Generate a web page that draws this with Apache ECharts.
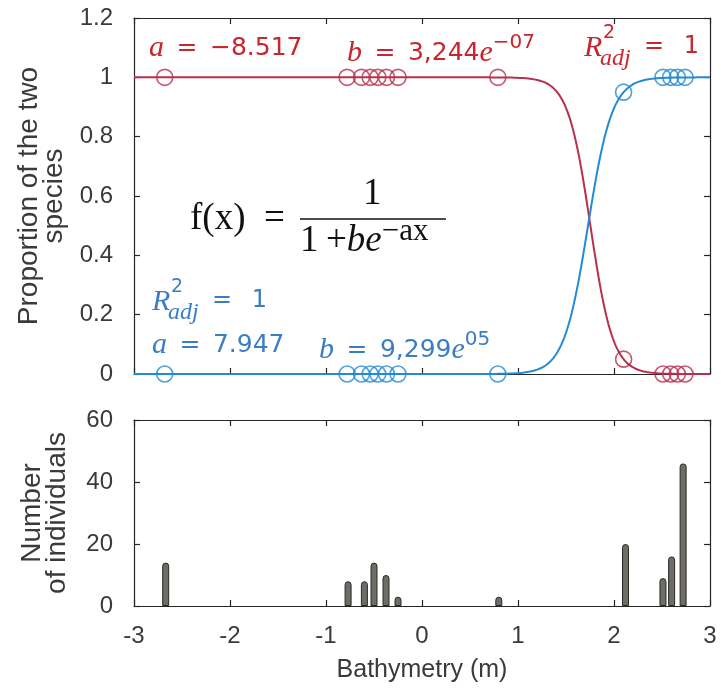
<!DOCTYPE html>
<html>
<head>
<meta charset="utf-8">
<script src="https://cdn.jsdelivr.net/npm/echarts@6/dist/echarts.min.js"></script>
<style>
  html, body { margin: 0; padding: 0; background: #ffffff; }
  #main { width: 721px; height: 695px; }
</style>
</head>
<body>
<div id="main"></div>
<script>
// Sampled stations: bathymetry (m) and observed proportion of each species
const stationDepths = [-2.68, -0.78, -0.63, -0.54, -0.46, -0.37, -0.25, 0.79, 2.1, 2.51, 2.59, 2.66, 2.74];
const proportionRed = [1, 1, 1, 1, 1, 1, 1, 1, 0.05, 0, 0, 0, 0];
const proportionBlue = [0, 0, 0, 0, 0, 0, 0, 0, 0.95, 1, 1, 1, 1];

// Number of individuals counted at each depth
const countDepths = [-2.67, -0.77, -0.6, -0.5, -0.375, -0.25, 0.8, 2.12, 2.51, 2.6, 2.72];
const countValues = [14, 8, 8, 14, 10, 3, 3, 20, 9, 16, 46];

// Fitted logistic models f(x) = 1 / (1 + b e^(-a x))
const redFit = { a: -8.517, b: 3.244e-7 };
const blueFit = { a: 7.947, b: 9.299e5 };

const RED = '#b8304f';
const BLUE = '#238bd3';
const RED_TEXT = '#c9252c';
const BLUE_TEXT = '#3b7dc4';
const AXIS = '#262626';

function logisticCurve(fit) {
  const pts = [];
  for (let i = 0; i <= 600; i++) {
    const x = -3 + i * 0.01;
    pts.push([x, 1 / (1 + fit.b * Math.exp(-fit.a * x))]);
  }
  return pts;
}

const zip = (xs, ys) => xs.map((x, i) => [x, ys[i]]);

const chart = echarts.init(document.getElementById('main'), null, { renderer: 'canvas' });

const tickFont = { fontFamily: 'Liberation Sans', fontSize: 24, color: '#3a3a3a' };
const yNameFont = { fontFamily: 'Liberation Sans', fontSize: 28, color: '#3a3a3a', lineHeight: 25 };
const xNameFont = { fontFamily: 'Liberation Sans', fontSize: 25, color: '#3a3a3a' };

function xAxis(gridIndex, position, labels, extra) {
  return Object.assign({
    type: 'value', gridIndex, position, min: -3, max: 3, interval: 1,
    axisLine: { show: true, onZero: false, lineStyle: { color: AXIS, width: 1.2 } },
    axisTick: { show: true, inside: true, length: 6, lineStyle: { color: AXIS, width: 1.2 } },
    axisLabel: Object.assign({ show: labels, margin: 18 }, tickFont),
    splitLine: { show: false }
  }, extra || {});
}
function yAxis(gridIndex, position, labels, min, max, interval, extra) {
  return Object.assign({
    type: 'value', gridIndex, position, min, max, interval,
    axisLine: { show: true, onZero: false, lineStyle: { color: AXIS, width: 1.2 } },
    axisTick: { show: true, inside: true, length: 6, lineStyle: { color: AXIS, width: 1.2 } },
    axisLabel: Object.assign({ show: labels, margin: 21 }, tickFont),
    splitLine: { show: false }
  }, extra || {});
}

// Math-style annotation helpers
const EQ = '\u2002=\u2002';
const NUM_FONT = 'DejaVu Sans';
function richText(x, y, text, color) {
  return {
    type: 'text', left: x, top: y, z: 100,
    style: {
      text, fill: color,
      rich: {
        i: { fontFamily: 'Liberation Serif', fontStyle: 'italic', fontSize: 30, lineHeight: 40, verticalAlign: 'middle', fill: color },
        n: { fontFamily: NUM_FONT, fontSize: 25, lineHeight: 40, verticalAlign: 'middle', fill: color },
        s: { fontFamily: NUM_FONT, fontSize: 20, lineHeight: 18, verticalAlign: 'top', fill: color }
      }
    }
  };
}
function rAdj(x, y, color) {
  return [
    { type: 'text', left: x, top: y, z: 100,
      style: { text: 'R', fill: color, font: 'italic 30px "Liberation Serif"' } },
    { type: 'text', left: x + 19, top: y - 9, z: 100,
      style: { text: '2', fill: color, font: '19px "DejaVu Sans"' } },
    { type: 'text', left: x + 16, top: y + 14, z: 100,
      style: { text: 'adj', fill: color, font: 'italic 24px "Liberation Serif"' } },
    { type: 'text', left: x + 60, top: y + 2, z: 100,
      style: { text: '=\u2002 1', fill: color, font: '24px "DejaVu Sans"' } }
  ];
}

const graphics = [
  richText(149, 33, '{i|a}{n|' + EQ + '−8.517}', RED_TEXT),
  richText(347, 33, '{i|b}{n|' + EQ + '3,244}{i|e}{s|−07}', RED_TEXT),
  ...rAdj(584, 33, RED_TEXT),
  ...rAdj(152, 287, BLUE_TEXT),
  richText(152, 330, '{i|a}{n|' + EQ + '7.947}', BLUE_TEXT),
  richText(319, 330, '{i|b}{n|' + EQ + '9,299}{i|e}{s|05}', BLUE_TEXT),
  // f(x) = 1 / (1 + b e^(-ax))
  { type: 'text', left: 190, top: 201, z: 100,
    style: { text: 'f(x)\u2002=', fill: '#111', font: '37px "Liberation Serif"' } },
  { type: 'text', left: 363, top: 176, z: 100,
    style: { text: '1', fill: '#111', font: '37px "Liberation Serif"' } },
  { type: 'line', z: 100, shape: { x1: 300, y1: 219, x2: 446, y2: 219 },
    style: { stroke: '#111', lineWidth: 1.6 } },
  { type: 'text', left: 300, top: 216, z: 100,
    style: {
      text: '{n|1\u2009+}{i|be}{s|−ax}', fill: '#111',
      rich: {
        n: { fontFamily: 'Liberation Serif', fontSize: 37, lineHeight: 50, verticalAlign: 'middle', fill: '#111' },
        i: { fontFamily: 'Liberation Serif', fontStyle: 'italic', fontSize: 37, lineHeight: 50, verticalAlign: 'middle', fill: '#111' },
        s: { fontFamily: 'Liberation Serif', fontSize: 31, lineHeight: 29, verticalAlign: 'top', fill: '#111' }
      }
    } }
];

const option = {
  animation: false,
  backgroundColor: '#ffffff',
  grid: [
    { left: 134, right: 11, top: 18, height: 356 },
    { left: 134, right: 11, top: 420, height: 186 }
  ],
  xAxis: [
    xAxis(0, 'bottom', false),
    xAxis(0, 'top', false),
    xAxis(1, 'bottom', true, {
      name: 'Bathymetry (m)', nameLocation: 'middle', nameGap: 52, nameTextStyle: xNameFont
    }),
    xAxis(1, 'top', false)
  ],
  yAxis: [
    yAxis(0, 'left', true, 0, 1.2, 0.2, {
      name: 'Proportion of the two\nspecies', nameLocation: 'middle', nameGap: 64, nameTextStyle: yNameFont
    }),
    yAxis(0, 'right', false, 0, 1.2, 0.2),
    yAxis(1, 'left', true, 0, 60, 20, {
      name: 'Number\nof individuals', nameLocation: 'middle', nameGap: 64, nameTextStyle: yNameFont
    }),
    yAxis(1, 'right', false, 0, 60, 20)
  ],
  series: [
    { type: 'line', name: 'fit red', xAxisIndex: 0, yAxisIndex: 0, data: logisticCurve(redFit),
      showSymbol: false, lineStyle: { color: RED, width: 2 }, z: 3 },
    { type: 'line', name: 'fit blue', xAxisIndex: 0, yAxisIndex: 0, data: logisticCurve(blueFit),
      showSymbol: false, lineStyle: { color: BLUE, width: 2 }, z: 3 },
    { type: 'scatter', name: 'obs red', xAxisIndex: 0, yAxisIndex: 0, data: zip(stationDepths, proportionRed),
      symbol: 'circle', symbolSize: 16,
      itemStyle: { color: 'rgba(255,255,255,0)', borderColor: RED, borderWidth: 1.6 }, z: 4 },
    { type: 'scatter', name: 'obs blue', xAxisIndex: 0, yAxisIndex: 0, data: zip(stationDepths, proportionBlue),
      symbol: 'circle', symbolSize: 16,
      itemStyle: { color: 'rgba(255,255,255,0)', borderColor: BLUE, borderWidth: 1.6 }, z: 4 },
    { type: 'bar', name: 'individuals', xAxisIndex: 2, yAxisIndex: 2, data: zip(countDepths, countValues),
      barWidth: 7,
      itemStyle: { color: '#6e6c65', borderColor: '#2a2a2a', borderWidth: 1, borderRadius: [3, 3, 0, 0] } }
  ],
  graphic: graphics
};

chart.setOption(option);
</script>
</body>
</html>
